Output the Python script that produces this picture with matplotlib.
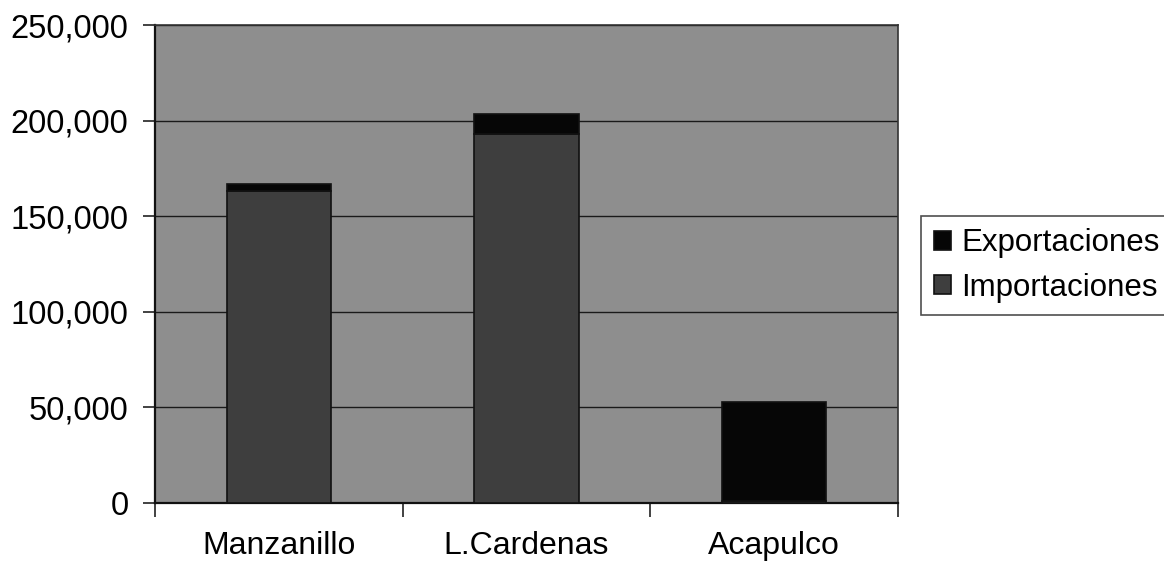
import matplotlib
matplotlib.use("Agg")
import matplotlib.pyplot as plt
from matplotlib.ticker import FuncFormatter
import numpy as np

# Port traffic by terminal
puertos = ["Manzanillo", "L.Cardenas", "Acapulco"]
importaciones = [163000, 193000, 1000]
exportaciones = [4000, 10500, 52000]
y_ticks = [0, 50000, 100000, 150000, 200000, 250000]

plt.rcParams["font.family"] = ["Liberation Sans", "DejaVu Sans"]

fig = plt.figure(figsize=(11.64, 5.65), dpi=100)
ax = fig.add_axes([155 / 1164, 1 - 503 / 565, (898 - 155) / 1164, (503 - 25) / 565])

bg_color = "#8e8e8e"
imp_color = "#3e3e3e"
exp_color = "#060606"
ax.set_facecolor(bg_color)

x = np.arange(len(puertos))
width = 0.42
ax.bar(x, importaciones, width, color=imp_color, edgecolor="#111111",
       linewidth=1.2, label="Importaciones", zorder=3)
ax.bar(x, exportaciones, width, bottom=importaciones, color=exp_color,
       edgecolor="#111111", linewidth=1.2, label="Exportaciones", zorder=3)

ax.set_xlim(-0.5, len(puertos) - 0.5)
ax.set_ylim(0, 250000)
ax.set_yticks(y_ticks)
ax.yaxis.set_major_formatter(FuncFormatter(lambda v, p: f"{int(v):,}"))
ax.grid(axis="y", color="#1a1a1a", linewidth=1.0, zorder=1)

# category ticks sit between bars
ax.set_xticks(x)
ax.set_xticklabels(puertos, fontsize=23)
ax.set_xticks(np.arange(len(puertos) + 1) - 0.5, minor=True)
ax.tick_params(axis="x", which="major", length=0, pad=20)
ax.tick_params(axis="x", which="minor", length=10, width=1.2, color="#222222")
ax.tick_params(axis="y", labelsize=23.5, length=9, width=1.2, color="#222222", pad=10)

for side in ["top", "right"]:
    ax.spines[side].set_color("#333333")
    ax.spines[side].set_linewidth(1.2)
for side in ["left", "bottom"]:
    ax.spines[side].set_color("#111111")
    ax.spines[side].set_linewidth(1.6)

handles, labels = ax.get_legend_handles_labels()
leg = fig.legend(handles[::-1], labels[::-1], loc="upper left",
                 bbox_to_anchor=(921 / 1164, 1 - 216 / 565),
                 fontsize=22.5, frameon=True, fancybox=False, edgecolor="#222222",
                 handlelength=0.55, handleheight=0.55, handletextpad=0.35,
                 borderpad=0.4, labelspacing=0.45, borderaxespad=0)
leg.get_frame().set_linewidth(1.2)

fig.savefig("out.png", dpi=100)
